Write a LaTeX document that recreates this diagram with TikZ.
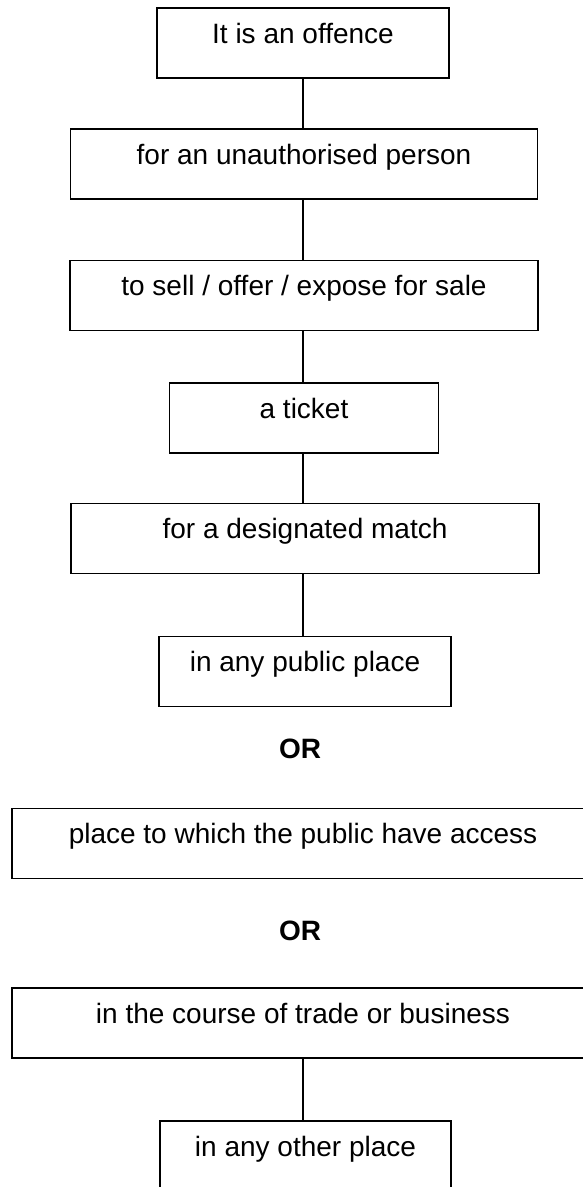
\documentclass[tikz,border=0pt]{standalone}
\usepackage{fontspec}
\setmainfont{Liberation Sans}
\begin{document}
\begin{tikzpicture}[x=1pt,y=-1pt,
  box/.style={draw, line width=1.6pt, rectangle, inner sep=0pt, minimum height=70pt,
    text height=20pt, text depth=20pt, font=\fontsize{28}{34}\selectfont},
  orlabel/.style={font=\fontsize{28}{34}\selectfont\bfseries, inner sep=0pt, anchor=base},
  link/.style={line width=1.4pt}]
\useasboundingbox (0,0) rectangle (583,1187);
\clip (0,0) rectangle (583,1187);
\fill[white] (0,0) rectangle (583,1187);
\node[box, minimum width=292pt] (b1) at (303,43) {It is an offence};
\node[box, minimum width=467pt] (b2) at (304,164) {for an unauthorised person};
\node[box, minimum width=468pt] (b3) at (304,295.5) {to sell / offer / expose for sale};
\node[box, minimum width=269pt] (b4) at (304,418) {a ticket};
\node[box, minimum width=468pt] (b5) at (305,538.5) {for a designated match};
\node[box, minimum width=292pt] (b6) at (305,671.5) {in any public place};
\node[orlabel] (or1) at (300,758) {OR};
\node[box, minimum width=582pt] (b7) at (303,843.5) {place to which the public have access};
\node[orlabel] (or2) at (300,940) {OR};
\node[box, minimum width=582pt] (b8) at (303,1023) {in the course of trade or business};
\node[box, minimum width=291pt, minimum height=80pt, text height=15pt, text depth=25pt] (b9) at (305.5,1161) {in any other place};
\draw[link] (b1.south) -- (b1.south |- b2.north);
\draw[link] (b2.south -| b1.south) -- (b1.south |- b3.north);
\draw[link] (b3.south -| b1.south) -- (b1.south |- b4.north);
\draw[link] (b4.south -| b1.south) -- (b1.south |- b5.north);
\draw[link] (b5.south -| b1.south) -- (b1.south |- b6.north);
\draw[link] (b8.south -| b1.south) -- (b1.south |- b9.north);
\end{tikzpicture}
\end{document}
